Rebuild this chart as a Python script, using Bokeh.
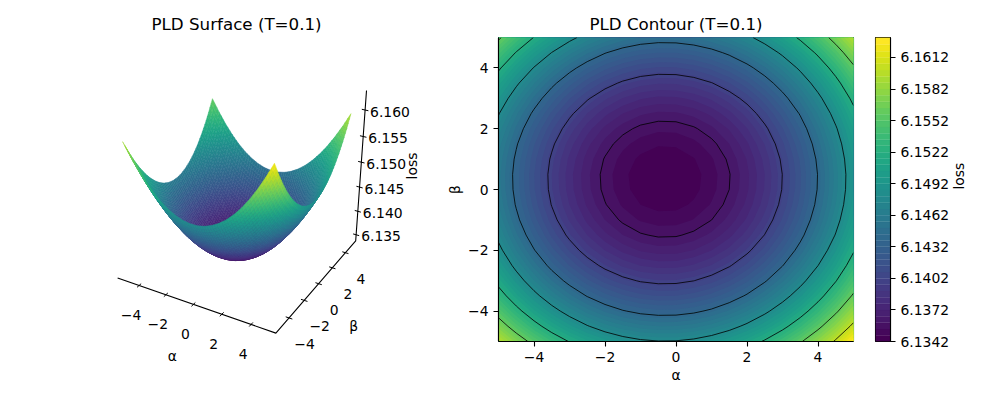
import math
import numpy as np
from bokeh.embed import file_html
from bokeh.resources import INLINE
from bokeh.layouts import row
from bokeh.plotting import figure
from bokeh.models import Range1d, FixedTicker, PrintfTickFormatter
from bokeh.palettes import Viridis256
from bokeh.core.properties import value

alpha_grid = [-5.0,-4.5,-4.0,-3.5,-3.0,-2.5,-2.0,-1.5,-1.0,-0.5,0.0,0.5,1.0,1.5,2.0,2.5,3.0,3.5,4.0,4.5,5.0]
beta_grid = [-5.0,-4.5,-4.0,-3.5,-3.0,-2.5,-2.0,-1.5,-1.0,-0.5,0.0,0.5,1.0,1.5,2.0,2.5,3.0,3.5,4.0,4.5,5.0]
loss_base = 6.1342
# loss above loss_base, in units of 1e-5; rows follow beta_grid, columns alpha_grid
loss_rows = [
 [2552,2317,2108,1925,1770,1640,1537,1461,1411,1388,1391,1421,1477,1560,1669,1805,1967,2155,2371,2612,2880],
 [2305,2070,1861,1678,1523,1393,1290,1214,1164,1141,1144,1174,1230,1313,1422,1558,1720,1908,2124,2365,2633],
 [2082,1847,1638,1455,1300,1170,1067,991,941,918,921,951,1007,1090,1199,1335,1497,1685,1901,2142,2410],
 [1883,1648,1439,1256,1101,971,868,792,742,719,722,752,808,891,1000,1136,1298,1486,1702,1943,2211],
 [1709,1474,1265,1082,927,797,694,618,568,545,548,578,634,717,826,962,1124,1312,1528,1769,2037],
 [1559,1324,1115,932,777,647,544,468,418,395,398,428,484,567,676,812,974,1162,1378,1619,1887],
 [1433,1198,989,806,651,521,418,342,292,269,272,302,358,441,550,686,848,1036,1252,1493,1761],
 [1331,1096,887,704,549,419,316,240,190,167,170,200,256,339,448,584,746,934,1150,1391,1659],
 [1254,1019,810,627,472,342,239,163,113,90,93,123,179,262,371,507,669,857,1073,1314,1582],
 [1201,966,757,574,419,289,186,110,60,37,40,70,126,209,318,454,616,804,1020,1261,1529],
 [1172,937,728,545,390,260,157,81,31,8,11,41,97,180,289,425,587,775,991,1232,1500],
 [1167,932,723,540,385,255,152,76,26,3,6,36,92,175,284,420,582,770,986,1227,1495],
 [1187,952,743,560,405,275,172,96,46,23,26,56,112,195,304,440,602,790,1006,1247,1515],
 [1231,996,787,604,449,319,216,140,90,67,70,100,156,239,348,484,646,834,1050,1291,1559],
 [1299,1064,855,672,517,387,284,208,158,135,138,168,224,307,416,552,714,902,1118,1359,1627],
 [1391,1156,947,764,609,479,376,300,250,227,230,260,316,399,508,644,806,994,1210,1451,1719],
 [1508,1273,1064,881,726,596,493,417,367,344,347,377,433,516,625,761,923,1111,1327,1568,1836],
 [1649,1414,1205,1022,867,737,634,558,508,485,488,518,574,657,766,902,1064,1252,1468,1709,1977],
 [1814,1579,1370,1187,1032,902,799,723,673,650,653,683,739,822,931,1067,1229,1417,1633,1874,2142],
 [2003,1768,1559,1376,1221,1091,988,912,862,839,842,872,928,1011,1120,1256,1418,1606,1822,2063,2331],
 [2217,1982,1773,1590,1435,1305,1202,1126,1076,1053,1056,1086,1142,1225,1334,1470,1632,1820,2036,2277,2545],
]
loss_max = 6.1631
band_step = 0.0006
line_levels = [6.136, 6.140, 6.144, 6.148, 6.152, 6.156, 6.160]
colorbar_ticks = [6.1342, 6.1372, 6.1402, 6.1432, 6.1462, 6.1492, 6.1522, 6.1552, 6.1582, 6.1612]
axis_ticks = [-4, -2, 0, 2, 4]
axis_labels = ["\u22124", "\u22122", "0", "2", "4"]
z_ticks = [6.135, 6.140, 6.145, 6.150, 6.155, 6.160]
z_labels = ["6.135", "6.140", "6.145", "6.150", "6.155", "6.160"]

FONT = "DejaVu Sans"
TICK_PX = "13.9px"
TITLE_PX = "16.7px"

Z = loss_base + np.array(loss_rows) * 1e-5
A = np.array(alpha_grid)
B = np.array(beta_grid)

# ---------- 3D projection ----------
EL, AZ, DIST = math.radians(30), math.radians(-60), 6.0
BOX = (1.14, 1.14, 1.12)
AB_END = 5.65
Z_LO, Z_HI = 6.1337, 6.1636
u = np.array([-math.sin(AZ), math.cos(AZ), 0.0])
v = np.array([-math.sin(EL) * math.cos(AZ), -math.sin(EL) * math.sin(AZ), math.cos(EL)])
n = np.array([math.cos(EL) * math.cos(AZ), math.cos(EL) * math.sin(AZ), math.sin(EL)])


def cam(a, b, z):
    P = np.array([
        (a + AB_END) / (2 * AB_END) * BOX[0] - BOX[0] / 2,
        (b + AB_END) / (2 * AB_END) * BOX[1] - BOX[1] / 2,
        (z - Z_LO) / (Z_HI - Z_LO) * BOX[2] - BOX[2] / 2,
    ])
    d = P @ n
    s = DIST / (DIST - d)
    return s * (P @ u), s * (P @ v), d


anchor_world = [(-AB_END, -AB_END, Z_LO), (AB_END, -AB_END, Z_LO), (AB_END, AB_END, Z_LO), (AB_END, AB_END, Z_HI)]
anchor_page = [(117.7, 278.3), (273.5, 330.0), (357.5, 243.5), (365.0, 88.5)]
_m = np.array([[cam(*w)[0], cam(*w)[1], 1.0] for w in anchor_world])
COEF_X = np.linalg.lstsq(_m, np.array([q[0] for q in anchor_page]), rcond=None)[0]
COEF_Y = np.linalg.lstsq(_m, np.array([q[1] for q in anchor_page]), rcond=None)[0]


def page(a, b, z):
    X, Y, d = cam(a, b, z)
    return COEF_X @ np.array([X, Y, 1.0]), COEF_Y @ np.array([X, Y, 1.0]), d


# ---------- left panel ----------
p1 = figure(width=442, height=391, output_backend="svg", toolbar_location=None,
            x_range=Range1d(0, 442), y_range=Range1d(341, 37),
            min_border_left=0, min_border_right=0, min_border_top=37, min_border_bottom=50,
            title="PLD Surface (T=0.1)")
p1.axis.visible = False
p1.grid.visible = False
p1.outline_line_color = None
p1.title.align = "left"
p1.title.offset = 151
p1.title.text_font = FONT
p1.title.text_font_size = TITLE_PX
p1.title.text_font_style = "normal"
p1.title.text_color = "black"
p1.title.standoff = 8

SUB = 3
vmin, vmax = Z.min(), Z.max()
facets = []
for j in range(len(B) - 1):
    for i in range(len(A) - 1):
        for sj in range(SUB):
            for si in range(SUB):
                corners = []
                for (fi, fj) in ((si, sj), (si + 1, sj), (si + 1, sj + 1), (si, sj + 1)):
                    ti, tj = fi / SUB, fj / SUB
                    a = A[i] + ti * (A[i + 1] - A[i])
                    b = B[j] + tj * (B[j + 1] - B[j])
                    z = ((1 - ti) * (1 - tj) * Z[j, i] + ti * (1 - tj) * Z[j, i + 1]
                         + ti * tj * Z[j + 1, i + 1] + (1 - ti) * tj * Z[j + 1, i])
                    corners.append(page(a, b, z) + (z,))
                zm = sum(c[3] for c in corners) / 4
                dm = sum(c[2] for c in corners) / 4
                idx = int(round((zm - vmin) / (vmax - vmin) * 255))
                facets.append((dm, [c[0] for c in corners], [c[1] for c in corners], Viridis256[idx]))
facets.sort(key=lambda f: f[0])
p1.patches([f[1] for f in facets], [f[2] for f in facets],
           fill_color=[f[3] for f in facets], line_color=[f[3] for f in facets], line_width=0.5)

# axis lines
axis_world = [(-AB_END, -AB_END, Z_LO), (AB_END, -AB_END, Z_LO), (AB_END, AB_END, Z_LO), (AB_END, AB_END, Z_HI)]
pts = [page(*w) for w in axis_world]
p1.line([q[0] for q in pts], [q[1] for q in pts], line_color="black", line_width=1.1)

TICK_D = 0.22
seg_x, seg_y = [], []
for t in axis_ticks:
    q0, q1 = page(t, -AB_END - TICK_D, Z_LO), page(t, -AB_END + TICK_D, Z_LO)
    seg_x.append([q0[0], q1[0]]); seg_y.append([q0[1], q1[1]])
    q0, q1 = page(AB_END - TICK_D, t, Z_LO), page(AB_END + TICK_D, t, Z_LO)
    seg_x.append([q0[0], q1[0]]); seg_y.append([q0[1], q1[1]])
for t in z_ticks:
    q0, q1 = page(AB_END - TICK_D, AB_END, t), page(AB_END + TICK_D, AB_END, t)
    seg_x.append([q0[0], q1[0]]); seg_y.append([q0[1], q1[1]])
p1.multi_line(seg_x, seg_y, line_color="black", line_width=1.0)

f = value(FONT)
txt = dict(text_font=f, text_font_size=TICK_PX, text_color="black", text_baseline="middle", level="annotation")
ax = [page(t, -AB_END, Z_LO) for t in axis_ticks]
p1.text([q[0] for q in ax], [q[1] for q in ax], text=axis_labels, x_offset=-8, y_offset=29.5,
        text_align="center", **txt)
bx = [page(AB_END, t, Z_LO) for t in axis_ticks]
p1.text([q[0] for q in bx], [q[1] for q in bx], text=axis_labels, x_offset=15.5, y_offset=26,
        text_align="center", **txt)
zx = [page(AB_END, AB_END, t) for t in z_ticks]
p1.text([q[0] for q in zx], [q[1] for q in zx], text=z_labels, x_offset=5, y_offset=1.5,
        text_align="left", **txt)
m = page(0, -AB_END, Z_LO)
p1.text([m[0]], [m[1]], text=["\u03b1"], x_offset=-21, y_offset=52, text_align="center", **txt)
m = page(AB_END, 0, Z_LO)
p1.text([m[0]], [m[1]], text=["\u03b2"], x_offset=35, y_offset=42, text_align="center", **txt)
m = page(AB_END, AB_END, 0.5 * (Z_LO + Z_HI))
p1.text([m[0]], [m[1]], text=["loss"], x_offset=51, y_offset=-3, angle=math.pi / 2, text_align="center", **txt)

# ---------- contour panel ----------
band_levels = [loss_base + k * band_step for k in range(48)] + [loss_max]
nb = len(band_levels) - 1
band_colors = [Viridis256[int(round(k / (nb - 1) * 255))] for k in range(nb)]


def style_axis(axis):
    axis.major_label_text_font = FONT
    axis.major_label_text_font_size = TICK_PX
    axis.major_label_text_color = "black"
    axis.axis_label_text_font = FONT
    axis.axis_label_text_font_size = TICK_PX
    axis.axis_label_text_font_style = "normal"
    axis.axis_label_text_color = "black"
    axis.axis_line_color = "black"
    axis.axis_line_width = 1.1
    axis.major_tick_line_color = "black"
    axis.major_tick_line_width = 1.1
    axis.major_tick_in = 0
    axis.major_tick_out = 5
    axis.minor_tick_line_color = None
    axis.major_label_standoff = 5


p2 = figure(width=423, height=391, output_backend="svg", toolbar_location=None,
            x_range=Range1d(-5, 5), y_range=Range1d(-5, 5),
            min_border_left=56, min_border_right=12, min_border_top=37, min_border_bottom=50,
            title="PLD Contour (T=0.1)", x_axis_label="\u03b1", y_axis_label="\u03b2")
p2.title.align = "center"
p2.title.text_font = FONT
p2.title.text_font_size = TITLE_PX
p2.title.text_font_style = "normal"
p2.title.text_color = "black"
p2.title.standoff = 8
p2.grid.visible = False
p2.outline_line_color = "black"
p2.outline_line_width = 1.1
labels = {t: s for t, s in zip(axis_ticks, axis_labels)}
for axis in (p2.xaxis[0], p2.yaxis[0]):
    style_axis(axis)
    axis.ticker = FixedTicker(ticks=axis_ticks)
    axis.major_label_overrides = labels
    axis.axis_label_standoff = 2
# each band is painted over the previous ones, up to the top level, so that no gap shows between bands
for k in range(nb):
    p2.contour(A, B, Z, levels=[band_levels[k], loss_max], fill_color=band_colors[k])
p2.contour(A, B, Z, levels=line_levels, line_color="black", line_width=0.8)

# ---------- colour bar panel ----------
p3 = figure(width=124, height=391, output_backend="svg", toolbar_location=None,
            x_range=Range1d(0, 1), y_range=Range1d(loss_base, loss_max), y_axis_location="right",
            min_border_left=10, min_border_right=99, min_border_top=37, min_border_bottom=50,
            y_axis_label="loss")
p3.xaxis.visible = False
p3.grid.visible = False
p3.outline_line_color = "black"
p3.outline_line_width = 1.1
p3.quad(left=0, right=1, bottom=band_levels[:-1], top=band_levels[1:],
        fill_color=band_colors, line_color=band_colors, line_width=0.3)
style_axis(p3.yaxis[0])
p3.yaxis[0].ticker = FixedTicker(ticks=colorbar_ticks)
p3.yaxis[0].formatter = PrintfTickFormatter(format="%.4f")
p3.yaxis[0].axis_label_orientation = math.pi / 2
p3.yaxis[0].axis_label_text_align = "center"
p3.yaxis[0].axis_label_text_baseline = "middle"
p3.yaxis[0].axis_label_standoff = 7

layout = row(p1, p2, p3, spacing=0)
open("out.html", "w").write(file_html(layout, INLINE))
